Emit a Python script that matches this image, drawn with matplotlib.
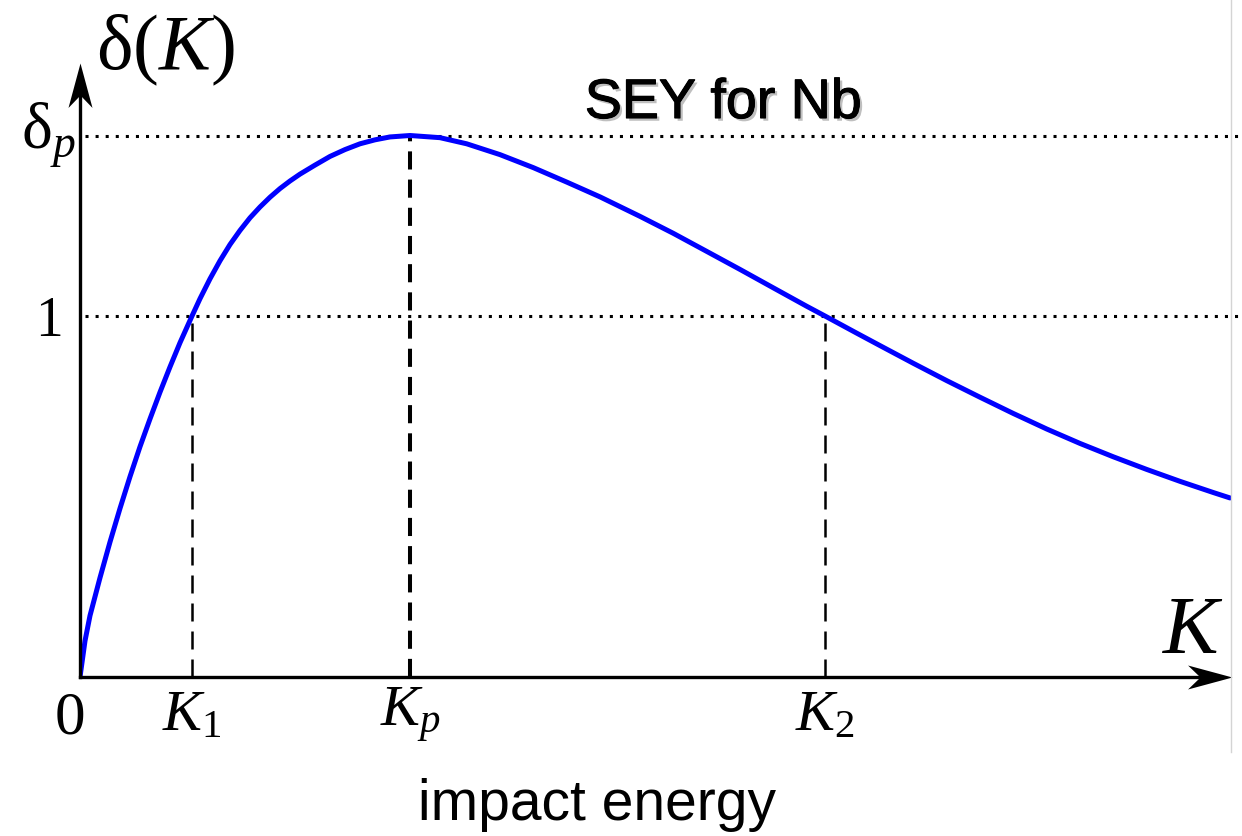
import matplotlib
matplotlib.use("Agg")
import matplotlib.pyplot as plt
import matplotlib.patheffects as pe
from matplotlib.path import Path
from matplotlib.markers import MarkerStyle
from matplotlib.lines import Line2D

plt.rcParams['mathtext.fontset'] = 'custom'
plt.rcParams['mathtext.rm'] = 'Liberation Serif'
plt.rcParams['mathtext.it'] = 'Liberation Serif:italic'

# impact energy K (arbitrary units) and secondary electron yield delta(K)
K = [0.0, 0.05, 0.1, 0.2, 0.3, 0.4, 0.5, 0.6, 0.7, 0.8, 0.9, 1.0, 1.12, 1.2, 1.3, 1.4,
     1.5, 1.6, 1.7, 1.8, 1.9, 2.0, 2.1, 2.2, 2.35, 2.5, 2.65, 2.8, 2.95, 3.1, 3.3,
     3.6, 3.867, 4.2, 4.533, 4.867, 5.2, 5.6, 5.933, 6.267, 6.6, 6.933, 7.267, 7.45,
     7.767, 8.0, 8.333, 8.667, 9.0, 9.333, 9.667, 10.0, 10.333, 10.667, 11.0, 11.333, 11.5]
delta = [0.0, 0.10, 0.17, 0.275, 0.374, 0.467, 0.555, 0.638, 0.715, 0.789, 0.859, 0.926,
         1.0, 1.048, 1.103, 1.153, 1.198, 1.237, 1.272, 1.302, 1.329, 1.353, 1.374, 1.393,
         1.418, 1.442, 1.461, 1.477, 1.488, 1.496, 1.5,
         1.494, 1.477, 1.447, 1.411, 1.371, 1.330, 1.276, 1.229, 1.179, 1.129, 1.078,
         1.027, 1.0, 0.9525, 0.918, 0.869, 0.821, 0.775, 0.730, 0.687, 0.647, 0.610,
         0.575, 0.542, 0.511, 0.496]
K1, Kp, K2 = 1.12, 3.30, 7.45
delta_p = 1.5
xtick_labels = [r'$K_1$', r'$K_p$', r'$K_2$']
ytick_labels = ['1', '']
delta_p_label = r'$\mathrm{\delta}_p$'

fig = plt.figure(figsize=(12.42, 8.36), dpi=100)
W, H = 1242, 836
x0, x1, y0, y1 = 80, 1232, 677, 63
ax = fig.add_axes([x0 / W, 1 - y0 / H, (x1 - x0) / W, (y0 - y1) / H])
xmax = (x1 - x0) / 100.0
ymax = (y0 - y1) / 361.0
ax.set_xlim(0, xmax)
ax.set_ylim(0, ymax)
for s in ax.spines.values():
    s.set_visible(False)

# faint frame edge at the right
fig.add_artist(Line2D([1231 / W, 1231 / W], [1.0, 1 - 752 / H], color='#d4d4d4', lw=1.0))

# reference lines
dots = (0, (1, 2.3))
ax.plot([0.05, xmax + 0.12], [delta_p, delta_p], color='black', lw=2.2,
        linestyle=dots, clip_on=False, zorder=2)
ax.plot([0.05, xmax + 0.12], [1, 1], color='black', lw=2.2,
        linestyle=dots, clip_on=False, zorder=2)
ax.plot([K1, K1], [0, 1], color='black', lw=1.8, linestyle=(0, (7.2, 4)), zorder=2)
ax.plot([K2, K2], [0, 1], color='black', lw=1.8, linestyle=(0, (7.2, 4)), zorder=2)
ax.plot([Kp, Kp], [0, delta_p], color='black', lw=2.9, linestyle=(0, (4.5, 2.5)), zorder=2)

# curve
ax.plot(K, delta, color='#0000ff', lw=3.6, zorder=3, solid_capstyle='round',
        solid_joinstyle='round')

# axes with dart-shaped arrow heads
ax.plot([0, xmax - 0.2], [0, 0], color='black', lw=2.4, clip_on=False, zorder=4)
ax.plot([0, 0], [0, ymax - 0.06], color='black', lw=2.4, clip_on=False, zorder=4)
dart_x = Path([(0, 0), (-1, 0.27), (-0.72, 0), (-1, -0.27), (0, 0)],
              [Path.MOVETO, Path.LINETO, Path.LINETO, Path.LINETO, Path.CLOSEPOLY])
dart_y = Path([(0, 0), (0.27, -1), (0, -0.72), (-0.27, -1), (0, 0)],
              [Path.MOVETO, Path.LINETO, Path.LINETO, Path.LINETO, Path.CLOSEPOLY])
ax.plot([xmax], [0], marker=MarkerStyle(dart_x), markersize=64, color='black',
        markeredgewidth=0, clip_on=False, zorder=5)
ax.plot([0], [ymax], marker=MarkerStyle(dart_y), markersize=64, color='black',
        markeredgewidth=0, clip_on=False, zorder=5)

# ticks
ax.set_xticks([K1, Kp, K2])
ax.set_xticklabels(xtick_labels, fontsize=42)
ax.set_yticks([1, delta_p])
ax.set_yticklabels(ytick_labels, fontsize=40, fontfamily='Liberation Serif')
ax.tick_params(length=0, pad=6)
ax.tick_params(axis='y', pad=12)
ax.text(-0.04, delta_p, delta_p_label, ha='right', va='center', fontsize=47)

ax.text(-0.1, -0.04, '0', ha='center', va='top', fontsize=44,
        fontfamily='Liberation Serif')
ax.text(xmax - 0.08, 0.02, r'$K$', ha='right', va='bottom', fontsize=60)
fig.text(165 / W, 1 - 50 / H, r'δ($K$)', ha='center', va='center', fontsize=56,
         fontfamily='Liberation Serif')

# titles
fig.text(723 / W, 1 - 104 / H, 'SEY for Nb', ha='center', va='center', fontsize=40,
         fontfamily='Liberation Sans',
         path_effects=[pe.withSimplePatchShadow(offset=(2, -2), shadow_rgbFace='gray', alpha=0.5),
                       pe.Stroke(linewidth=0.8, foreground='black'), pe.Normal()])
fig.text(597 / W, 1 - 805 / H, 'impact energy', ha='center', va='center', fontsize=41,
         fontfamily='Liberation Sans')

fig.savefig('out.png', dpi=100)
